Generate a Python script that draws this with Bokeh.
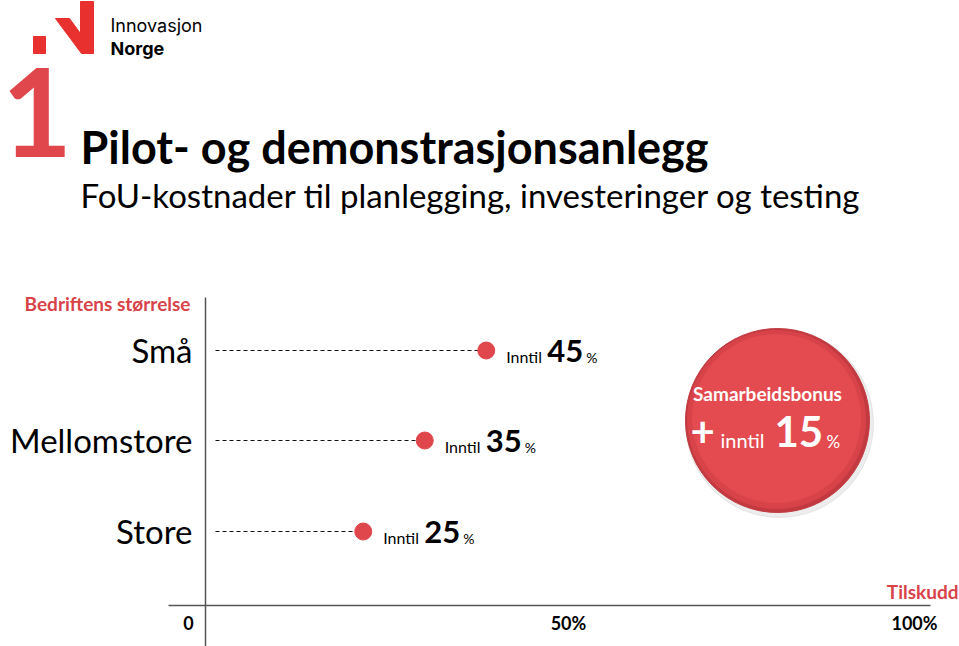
from bokeh.plotting import figure
from bokeh.models import Range1d
from bokeh.core.properties import value
from bokeh.embed import file_html
from bokeh.resources import INLINE

# ---- data ----
categories = ["Små", "Mellomstore", "Store"]
support = [45, 35, 25]          # % tilskudd
bonus = 15                      # samarbeidsbonus %
tick_labels = ["0", "50%", "100%"]
title = "Pilot- og demonstrasjonsanlegg"
subtitle = "FoU-kostnader til planlegging, investeringer og testing"
y_title = "Bedriftens størrelse"
x_title = "Tilskudd"
bonus_title = "Samarbeidsbonus"

# ---- layout ----
W, H = 959, 646
X0, XS = 209.0, 6.15
def X(px):
    return (px - X0) / XS

RED = "#e0474c"
TXTRED = "#d8434a"
FONT = "Lato"
BL = 0.37   # baseline correction factor

p = figure(width=W, height=H, x_range=Range1d(X(0), X(W)), y_range=Range1d(H, 0),
           output_backend="svg", toolbar_location=None, min_border=0,
           x_axis_location=None, y_axis_location=None)
p.grid.visible = False
p.outline_line_color = None
p.background_fill_color = "white"
p.border_fill_color = "white"


def txt(xpx, ypx, s, size, bold=False, color="black", align="left", font=FONT):
    p.text(x=[X(xpx)], y=[ypx - BL * size], text=[s], text_font=value(font),
           text_font_size=f"{size}px", text_font_style="bold" if bold else "normal",
           text_color=color, text_align=align, text_baseline="alphabetic")

# logo
p.patch(x=[X(v) for v in [33, 45, 45, 33]], y=[36, 36, 53, 53], color="#e8312f")
p.patch(x=[X(v) for v in [55, 69, 80, 80, 93, 93, 81]], y=[18, 18, 33, 1, 1, 53, 53], color="#e8312f")
txt(110, 32, "Innovasjon", 18, font="Inter")
txt(110, 55, "Norge", 18, bold=True, font="Inter")

# big 1
txt(1, 157, "1", 122, bold=True, color=RED, align="left")

# titles
txt(80, 163, title, 45, bold=True)
txt(80, 207, subtitle, 33)

# axes
p.segment(x0=[X(205)], y0=[297], x1=[X(205)], y1=[646], line_color="#555555", line_width=1.5)
p.segment(x0=[X(168)], y0=[605], x1=[X(930)], y1=[605], line_color="#555555", line_width=1.5)
txt(190, 310, y_title, 19, bold=True, color=TXTRED, align="right")
txt(958, 598, x_title, 19, bold=True, color=TXTRED, align="right")
tick_px = [188, 568, 914]
for tp, tl in zip(tick_px, tick_labels):
    txt(tp, 629, tl, 18, bold=True, align="center")

# rows
row_y = [350, 440, 531]
p.segment(x0=[X(215)] * 3, y0=row_y, x1=support, y1=row_y, line_color="#111111",
          line_width=1.2, line_dash="4 3")
p.scatter(x=support, y=row_y, size=17, color=RED)
for c, v, ry in zip(categories, support, row_y):
    txt(192, ry + 12, c, 33, align="right")
    for s, off, fs, st in [("Inntil", 20, 16, "normal"), (str(v), 61, 31, "bold"), ("%", 100, 14, "normal")]:
        p.text(x=[v], y=[ry + 12 - BL * fs], text=[s], x_offset=off, text_font=value(FONT),
               text_font_size=f"{fs}px", text_font_style=st, text_color="black",
               text_baseline="alphabetic")

# bonus bubble
cx, cy = 777, 420
p.scatter(x=[X(cx + 2)], y=[cy + 3], size=188, color="#999999", alpha=0.18)
p.scatter(x=[X(cx)], y=[cy], size=184, color="#c23a40")
p.scatter(x=[X(cx - 1)], y=[cy - 1], size=178, color="#d8434a")
p.scatter(x=[X(cx - 1)], y=[cy - 2], size=168, color="#e34b50")
txt(767, 400, bonus_title, 19, bold=True, color="white", align="center")
txt(690, 447, "+", 42, bold=True, color="white")
txt(720, 447, "inntil", 20, color="white")
txt(774, 447, str(bonus), 42, bold=True, color="white")
txt(826, 447, "%", 17, color="white")

open("out.html", "w").write(file_html(p, INLINE))
